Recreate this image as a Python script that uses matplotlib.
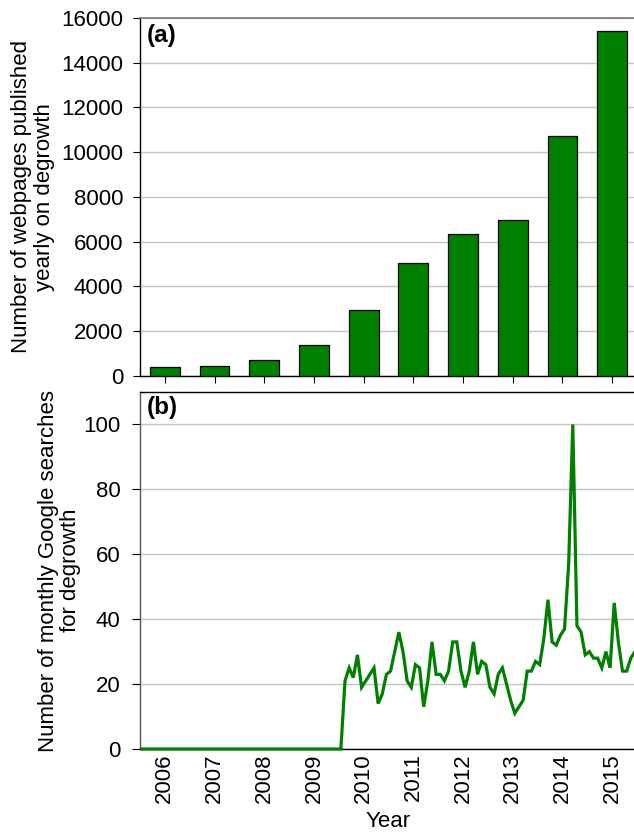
import matplotlib
matplotlib.use("Agg")
import matplotlib.pyplot as plt
import numpy as np

plt.rcParams['font.family'] = ['Liberation Sans', 'DejaVu Sans']

# Panel (a): yearly webpage counts
years = ['2006', '2007', '2008', '2009', '2010', '2011', '2012', '2013', '2014', '2015']
webpages = [390, 430, 700, 1390, 2930, 5070, 6330, 6990, 10720, 15410]

# Panel (b): monthly Google search index, Jan 2006 - Dec 2015
searches_2006_2009 = [0] * 48
searches_2010 = [0, 21, 25, 22, 29, 19, 21, 23, 25, 14, 17, 23]
searches_2011 = [24, 30, 36, 30, 21, 19, 26, 25, 13, 21, 33, 23]
searches_2012 = [23, 21, 24, 33, 33, 24, 19, 24, 33, 23, 27, 26]
searches_2013 = [19, 17, 23, 25, 20, 15, 11, 13, 15, 24, 24, 27]
searches_2014 = [26, 34, 46, 33, 32, 35, 37, 57, 100, 38, 36, 29]
searches_2015 = [30, 28, 28, 25, 30, 25, 45, 33, 24, 24, 28, 30]
searches = (searches_2006_2009 + searches_2010 + searches_2011 + searches_2012
            + searches_2013 + searches_2014 + searches_2015)

green = '#008000'
grid_color = '#c4c4c4'
fs = 16
panel_fs = 17.5

W, H = 634, 832
fig = plt.figure(figsize=(W / 100, H / 100), dpi=100)

def frac_box(x0, y0, x1, y1):
    return [x0 / W, 1 - y1 / H, (x1 - x0) / W, (y1 - y0) / H]

ax1 = fig.add_axes(frac_box(140, 18, 637, 376))
ax2 = fig.add_axes(frac_box(140, 392, 637, 749))

# ---- (a) bars ----
xb = np.arange(len(years))
ax1.bar(xb, webpages, width=0.6, color=green, edgecolor='black', linewidth=0.9, zorder=3)
ax1.set_xlim(-0.5, len(years) - 0.5)
ax1.set_ylim(0, 16000)
ax1.set_yticks(np.arange(0, 16001, 2000))
ax1.set_xticks(xb)
ax1.set_xticklabels([])
ax1.yaxis.grid(True, color=grid_color, linewidth=1.0)
ax1.set_axisbelow(True)
ax1.tick_params(axis='y', direction='out', length=5, width=0.8, pad=7, labelsize=fs)
ax1.tick_params(axis='x', direction='out', length=5, width=0.8)
ax1.spines['right'].set_visible(False)
ax1.spines['top'].set_color('#7a7a7a')
ax1.spines['top'].set_linewidth(1.2)
for s in ('left', 'bottom'):
    ax1.spines[s].set_linewidth(1.0)
ax1.set_ylabel('Number of webpages published\nyearly on degrowth', fontsize=fs,
               linespacing=1.1)
ax1.yaxis.set_label_coords(-0.172, 0.5)
ax1.text(0.013, 0.982, '(a)', transform=ax1.transAxes, fontsize=panel_fs,
         fontweight='bold', ha='left', va='top')

# ---- (b) line ----
xm = np.arange(len(searches))
ax2.plot(xm, searches, color=green, linewidth=2.3, zorder=3, clip_on=False,
         solid_joinstyle='miter')
ax2.set_xlim(-0.5, len(searches) - 0.5)
ax2.set_ylim(0, 110)
ax2.set_yticks(np.arange(0, 101, 20))
ax2.set_xticks(np.arange(len(years)) * 12 + 5.5)
ax2.set_xticklabels(years, rotation=90, fontsize=fs)
ax2.yaxis.grid(True, color=grid_color, linewidth=1.0)
ax2.set_axisbelow(True)
ax2.tick_params(axis='y', direction='out', length=6, width=0.8, pad=8, labelsize=fs)
ax2.tick_params(axis='x', length=0, pad=3)
ax2.spines['right'].set_visible(False)
for s in ('left', 'bottom', 'top'):
    ax2.spines[s].set_linewidth(1.0)
ax2.spines['left'].set_color('#555555')
ax2.set_ylabel('Number of monthly Google searches\nfor degrowth', fontsize=fs,
               linespacing=1.1)
ax2.yaxis.set_label_coords(-0.118, 0.5)
ax2.set_xlabel('Year', fontsize=fs, labelpad=6)
ax2.text(0.013, 0.99, '(b)', transform=ax2.transAxes, fontsize=panel_fs,
         fontweight='bold', ha='left', va='top')

fig.savefig('out.png', dpi=100)
